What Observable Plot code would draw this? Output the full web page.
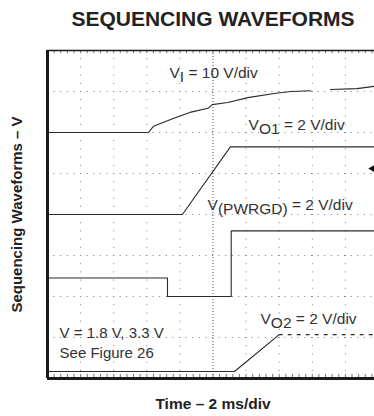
<!DOCTYPE html>
<html>
<head>
<meta charset="utf-8">
<script src="https://cdn.jsdelivr.net/npm/d3@7"></script>
<script src="https://cdn.jsdelivr.net/npm/@observablehq/plot@0.6"></script>
<style>
  html, body { margin: 0; padding: 0; background: #fff; overflow: hidden; }
  #chart svg { display: block; overflow: hidden; }
</style>
</head>
<body>
<div id="chart"></div>
<script>
// Scope screen: 10 horizontal divisions at 2 ms/div, 8 vertical divisions
const msPerDiv = 2;
const timeDivs = 10;
const voltDivs = 8;

// Channel settings: volts per division and ground position (in divisions from the bottom)
const channels = ["VI", "VO1", "PWRGD", "VO2"];
const voltsPerDiv = [10, 2, 2, 2];
const groundDiv = [6, 4, 2, 0.17];

// Captured traces: time in ms, level in volts (NaN marks a gap in the record)
const viTime = [0, 6.1, 6.4, 7.6, 8.6, 9.7, 9.95, 10.9, 12.1, 13.7, 14.7, 15.9, 16.5, 17.1, 18.7, 20];
const viVolts = [0, 0, 1.5, 3.4, 4.9, 5.9, 6.8, 7.3, 8.5, 9.5, 10.0, 10.2, NaN, 10.5, 10.7, 11.4];

const vo1Time = [0, 8.15, 11.05, 20];
const vo1Volts = [0, 0, 3.3, 3.3];

const pwrgdTime = [0, 7.25, 7.25, 11.1, 11.1, 20];
const pwrgdVolts = [0.9, 0.9, 0, 0, 3.2, 3.2];

const vo2Time = [0, 11.3, 14.0, 20];
const vo2Volts = [0, 0, 1.8, 1.8];

// Trigger level on the VO1 channel
const triggerVolts = 2.24;

const traceTimes = [viTime, vo1Time, pwrgdTime, vo2Time];
const traceVolts = [viVolts, vo1Volts, pwrgdVolts, vo2Volts];

// Flatten into screen-division rows for the plot
const rows = channels.flatMap((ch, c) =>
  traceTimes[c].map((t, i) => ({
    channel: ch,
    t,
    volts: traceVolts[c][i],
    div: groundDiv[c] + traceVolts[c][i] / voltsPerDiv[c]
  }))
);
// VO2 after it settles is a faint, broken trace
const vo2Settled = rows.filter(d => d.channel === "VO2" && d.t >= 14.0);
const solidRows = rows.filter(d => !(d.channel === "VO2" && d.t > 14.0));

const tMax = msPerDiv * timeDivs;
const majorT = d3.range(1, timeDivs).map(i => i * msPerDiv).filter(t => t !== tMax / 2);
const majorDiv = d3.range(1, voltDivs);
const minorT = d3.range(0, tMax + 1e-9, msPerDiv / 5);

const font = "'Liberation Sans', Arial, Helvetica, sans-serif";
const ink = "#2a2a2a";
const noteSize = 15.5;

const chart = Plot.plot({
  width: 374,
  height: 416,
  marginLeft: 47,
  marginRight: -4,
  marginTop: 50,
  marginBottom: 38,
  style: { fontFamily: font, background: "#fff", color: ink },
  x: { domain: [0, tMax], axis: null },
  y: { domain: [0, voltDivs], axis: null },
  marks: [
    // dotted graticule
    Plot.ruleX(majorT, { stroke: "#7a7a7a", strokeWidth: 1, strokeDasharray: "1,7.2" }),
    Plot.ruleY(majorDiv, { stroke: "#7a7a7a", strokeWidth: 1, strokeDasharray: "1,5.6" }),
    Plot.ruleX([tMax / 2], { stroke: "#555", strokeWidth: 1, strokeDasharray: "1,2" }),
    // minor ticks along the top and bottom edges
    Plot.ruleX(minorT, { y1: voltDivs, y2: voltDivs - 0.08, stroke: "#777", strokeWidth: 1 }),
    Plot.ruleX(minorT, { y1: 0, y2: 0.1, stroke: "#777", strokeWidth: 1 }),
    // traces
    Plot.line(solidRows, { x: "t", y: "div", z: "channel", stroke: ink, strokeWidth: 1.1 }),
    Plot.line(vo2Settled, { x: "t", y: "div", stroke: ink, strokeWidth: 1.1, strokeDasharray: "3,6" }),
    // trigger marker on the right edge
    Plot.dot([triggerVolts], {
      x: tMax - 0.28, y: v => groundDiv[1] + v / voltsPerDiv[1],
      symbol: "triangle", rotate: -90, r: 3.6, fill: "#111", stroke: "none"
    }),
    // channel annotations
    Plot.text(["V_{I} = 10 V/div"], { x: 7.37, y: 7.32, textAnchor: "start", lineAnchor: "bottom", fontSize: noteSize, fill: "#333" }),
    Plot.text(["V_{O1} = 2 V/div"], { x: 12.15, y: 6.05, textAnchor: "start", lineAnchor: "bottom", fontSize: noteSize, fill: "#333" }),
    Plot.text(["V_{(PWRGD)} = 2 V/div"], { x: 9.67, y: 4.1, textAnchor: "start", lineAnchor: "bottom", fontSize: noteSize, fill: "#333" }),
    Plot.text(["V_{O2} = 2 V/div"], { x: 12.87, y: 1.34, textAnchor: "start", lineAnchor: "bottom", fontSize: noteSize, fill: "#333" }),
    Plot.text(["V = 1.8 V, 3.3 V"], { x: 0.73, y: 1.0, textAnchor: "start", lineAnchor: "bottom", fontSize: 15, fill: "#333" }),
    Plot.text(["See Figure 26"], { x: 0.73, y: 0.51, textAnchor: "start", lineAnchor: "bottom", fontSize: 15, fill: "#333" }),
    // frame
    Plot.ruleX([0], { stroke: "#1a1a1a", strokeWidth: 3 }),
    Plot.ruleY([voltDivs], { stroke: "#1a1a1a", strokeWidth: 1.5 }),
    Plot.ruleY([0], { stroke: "#1a1a1a", strokeWidth: 3 }),
    // titles
    Plot.text(["SEQUENCING WAVEFORMS"], { frameAnchor: "top", dy: -31.5, lineAnchor: "middle", fontSize: 21, fontWeight: "bold", fill: "#222" }),
    Plot.text(["Time \u2013 2 ms/div"], { frameAnchor: "bottom", dy: 25.5, lineAnchor: "middle", fontSize: 15.5, fontWeight: "bold", fill: "#222" }),
    Plot.text(["Sequencing Waveforms \u2013 V"], { frameAnchor: "left", dx: -30, rotate: -90, textAnchor: "middle", lineAnchor: "middle", fontSize: 15, fontWeight: "bold", fill: "#222" })
  ]
});

// Turn "_{...}" in labels into lowered subscripts
const ns = "http://www.w3.org/2000/svg";
for (const t of chart.querySelectorAll("text")) {
  const m = t.textContent.match(/^(.*?)_\{(.*?)\}(.*)$/);
  if (!m) continue;
  t.textContent = "";
  const parts = [[m[1], null], [m[2], "4"], [m[3], "-4"]];
  for (const [s, dy] of parts) {
    const span = document.createElementNS(ns, "tspan");
    span.textContent = s;
    if (dy) span.setAttribute("dy", dy);
    t.appendChild(span);
  }
}

document.getElementById("chart").appendChild(chart);
</script>
</body>
</html>
